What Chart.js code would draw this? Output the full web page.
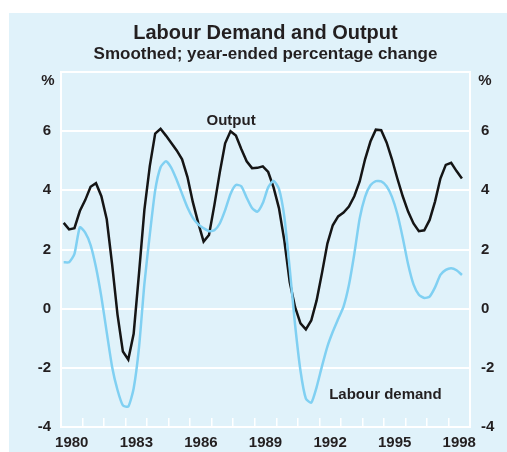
<!DOCTYPE html>
<html>
<head>
<meta charset="utf-8">
<script src="https://cdn.jsdelivr.net/npm/chart.js@4.4.0/dist/chart.umd.min.js"></script>
<style>
  html, body { margin: 0; padding: 0; background: #fff; }
  #wrap { position: relative; width: 507px; height: 452px; }
  #panel { position: absolute; left: 9px; top: 13px; right: 0; bottom: 0; background: #e0f2fa; }
  #chart { position: absolute; left: 0; top: 0; }
</style>
</head>
<body>
<div id="wrap">
  <div id="panel"></div>
  <canvas id="chart" width="507" height="452"></canvas>
</div>
<script>
// year-ended % change, quarterly from March quarter 1980
const output = [2.9, 2.68, 2.72, 3.3, 3.67, 4.12, 4.24, 3.8, 3.02, 1.5,
  -0.2, -1.45, -1.72, -0.85, 1.2, 3.35, 4.82, 5.92, 6.08, 5.85,
  5.6, 5.35, 5.05, 4.45, 3.6, 2.9, 2.27, 2.49, 3.5, 4.6,
  5.59, 6.0, 5.85, 5.4, 4.98, 4.75, 4.76, 4.81, 4.62, 4.1,
  3.4, 2.3, 0.9, 0.05, -0.5, -0.7, -0.4, 0.28, 1.21, 2.2,
  2.82, 3.12, 3.25, 3.45, 3.8, 4.3, 5.05, 5.65, 6.05, 6.03,
  5.62, 5.05, 4.4, 3.8, 3.28, 2.88, 2.62, 2.65, 3.0, 3.62,
  4.4, 4.86, 4.93, 4.65, 4.4]
const labourDemand = [1.57, 1.57, 1.85, 2.75, 2.57, 2.15, 1.4, 0.4, -0.8, -1.97,
  -2.75, -3.27, -3.31, -2.7, -1.3, 0.85, 2.5, 4.0, 4.78, 4.98,
  4.76, 4.35, 3.88, 3.42, 3.07, 2.85, 2.72, 2.62, 2.65, 2.88,
  3.33, 3.88, 4.18, 4.14, 3.75, 3.4, 3.28, 3.57, 4.1, 4.32,
  4.05, 3.1, 1.35, -0.55, -2.1, -3.04, -3.18, -2.65, -1.94, -1.28,
  -0.78, -0.35, 0.07, 0.8, 1.85, 3.05, 3.78, 4.17, 4.31, 4.3,
  4.14, 3.78, 3.2, 2.4, 1.5, 0.82, 0.47, 0.36, 0.41, 0.72,
  1.14, 1.31, 1.37, 1.3, 1.14]
const yearLabels = [1980, 1983, 1986, 1989, 1992, 1995, 1998]
const yTicks = [-4, -2, 0, 2, 4, 6, 8]

const quarters = output.map((v, i) => (1980 + Math.floor(i / 4)) + ' Q' + (i % 4 + 1))
// plot each quarter in the middle of its quarter
const toX = q => { const p = q.split(' Q'); return +p[0] + (+p[1] - 0.5) / 4 }

const FONT = "'Liberation Sans', Arial, sans-serif"
const TEXT = '#231f20'

// notes sit in data space
const notes = [
  { text: 'Output', x: 1987.9, y: 6.36 },
  { text: 'Labour demand', x: 1995.07, y: -2.9 }
]

const textPlugin = {
  id: 'notes',
  afterDraw(chart) {
    const ctx = chart.ctx
    const xs = chart.scales.x, ys = chart.scales.y
    ctx.save()
    ctx.fillStyle = TEXT
    ctx.font = 'bold 15px ' + FONT
    ctx.textAlign = 'center'
    ctx.textBaseline = 'middle'
    notes.forEach(n => ctx.fillText(n.text, xs.getPixelForValue(n.x), ys.getPixelForValue(n.y)))
    const py = ys.getPixelForValue(8) + 9
    ctx.fillText('%', chart.chartArea.left - 13, py)
    ctx.fillText('%', chart.chartArea.right + 15, py)
    ctx.restore()
  }
}

const ctx = document.getElementById('chart').getContext('2d')
const myChart = new Chart(ctx, {
  type: 'line',
  data: {
    datasets: [{
      label: 'Labour demand',
      data: labourDemand.map((v, i) => ({ x: toX(quarters[i]), y: v })),
      borderColor: '#80d0f2',
      borderWidth: 2.5,
      pointRadius: 0,
      tension: 0.2
    }, {
      label: 'Output',
      data: output.map((v, i) => ({ x: toX(quarters[i]), y: v })),
      borderColor: '#151515',
      borderWidth: 2.5,
      pointRadius: 0,
      tension: 0
    }]
  },
  options: {
    responsive: false,
    animation: false,
    devicePixelRatio: 1,
    layout: { padding: 0 },
    plugins: {
      legend: { display: false },
      tooltip: { enabled: false },
      title: {
        display: true,
        text: 'Labour Demand and Output',
        color: TEXT,
        font: { family: FONT, size: 20, weight: 'bold' },
        padding: { top: 21, bottom: 0 },
        fullSize: false
      },
      subtitle: {
        display: true,
        text: 'Smoothed; year-ended percentage change',
        color: TEXT,
        font: { family: FONT, size: 17, weight: 'bold', lineHeight: 1.1 },
        padding: { top: 0, bottom: 8.3 },
        fullSize: false
      }
    },
    scales: {
      x: {
        type: 'linear',
        min: 1980,
        max: 1999,
        afterBuildTicks: s => {
          const t = []
          for (let y = 1980; y <= 1999; y++) t.push({ value: y })
          s.ticks = t
        },
        afterFit: s => { s.height = 25 },
        ticks: {
          autoSkip: false,
          maxRotation: 0,
          labelOffset: 10.75,
          padding: 16,
          color: TEXT,
          font: { family: FONT, size: 15, weight: 'bold' },
          callback: v => yearLabels.includes(v) ? String(v) : ''
        },
        grid: { drawOnChartArea: false, drawTicks: true, tickLength: -9, color: '#fff', lineWidth: 1.5 },
        border: { color: '#fff', width: 2 }
      },
      y: {
        position: 'left',
        min: -4,
        max: 8,
        afterBuildTicks: s => { s.ticks = yTicks.map(v => ({ value: v })) },
        afterFit: s => { s.width = 61 },
        ticks: {
          padding: 10,
          color: TEXT,
          font: { family: FONT, size: 15, weight: 'bold' },
          callback: v => v === 8 ? '' : v
        },
        grid: { color: '#fff', lineWidth: 2, drawTicks: false },
        border: { color: '#fff', width: 2 }
      },
      y2: {
        position: 'right',
        min: -4,
        max: 8,
        afterBuildTicks: s => { s.ticks = yTicks.map(v => ({ value: v })) },
        afterFit: s => { s.width = 37 },
        ticks: {
          padding: 11,
          color: TEXT,
          font: { family: FONT, size: 15, weight: 'bold' },
          callback: v => v === 8 ? '' : v
        },
        grid: { drawOnChartArea: false, drawTicks: false },
        border: { color: '#fff', width: 2 }
      }
    }
  },
  plugins: [textPlugin]
})
</script>
</body>
</html>
